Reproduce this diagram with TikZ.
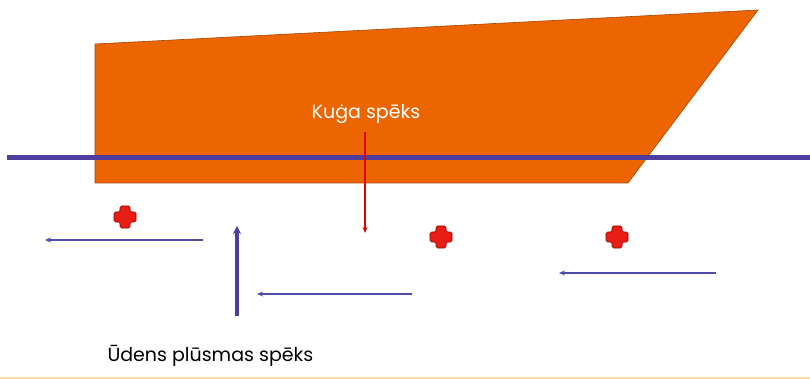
\documentclass[tikz,border=0pt]{standalone}
\usepackage{fontspec}
\setmainfont{Poppins}
\usetikzlibrary{arrows.meta}
\definecolor{shiporange}{RGB}{236,101,0}
\definecolor{waterline}{RGB}{78,60,160}
\definecolor{flowblue}{RGB}{80,75,175}
\definecolor{crossred}{RGB}{232,30,20}
\definecolor{peach}{RGB}{255,218,160}
\tikzset{
  flow/.style={draw=flowblue, line width=1.4pt, -{Stealth[length=6pt,width=5pt]}},
  force/.style={draw=red!90!black, line width=1.5pt, -{Stealth[length=6pt,width=5pt]}},
  redcross/.pic={
    \path[fill=crossred, draw=red!55!black, line width=0.6pt, rounded corners=1.5pt]
      (-5,-11) -- (5,-11) -- (5,-5) -- (11,-5) -- (11,5) -- (5,5)
      -- (5,11) -- (-5,11) -- (-5,5) -- (-11,5) -- (-11,-5) -- (-5,-5) -- cycle;
  }
}
\begin{document}
\begin{tikzpicture}[x=1pt,y=-1pt]
\useasboundingbox (0,0) rectangle (810,379);
\fill[white] (0,0) rectangle (810,379);
% ship
\path[fill=shiporange, draw=shiporange!70!black, line width=0.6pt]
  (95,44) -- (758,10) -- (628,183) -- (95,183) -- cycle;
% waterline
\coordinate (wl1) at (7,158);
\coordinate (wl2) at (810,158);
\draw[waterline, line width=5pt] (wl1) -- (wl2);
% ship force
\node[text=white, font=\fontsize{19}{22}\selectfont] (kuga) at (366,114) {Kuġa spēks};
\coordinate (kf1) at (365,132);
\coordinate (kf2) at (365,233);
\draw[force] (kf1) -- (kf2);
% crosses
\pic (c1) at (125,217) {redcross};
\pic (c2) at (441,237) {redcross};
\pic (c3) at (617,237) {redcross};
% flow arrows
\coordinate (f1s) at (203,240); \coordinate (f1e) at (45,240);
\coordinate (f2s) at (412,294); \coordinate (f2e) at (257,294);
\coordinate (f3s) at (716,273); \coordinate (f3e) at (559,273);
\draw[flow] (f1s) -- (f1e);
\draw[flow] (f2s) -- (f2e);
\draw[flow] (f3s) -- (f3e);
\coordinate (v1) at (237,316); \coordinate (v2) at (237,226);
\draw[flow, line width=3.4pt, draw=waterline, -{Stealth[length=8pt,width=8pt]}] (v1) -- (v2);
% label
\node[anchor=west, text=black, font=\fontsize{19}{22}\selectfont] (udens) at (104,356) {Ūdens plūsmas spēks};
% bottom line
\coordinate (b1) at (0,377.5); \coordinate (b2) at (810,377.5);
\draw[peach, line width=2pt] (b1) -- (b2);
\end{tikzpicture}
\end{document}
